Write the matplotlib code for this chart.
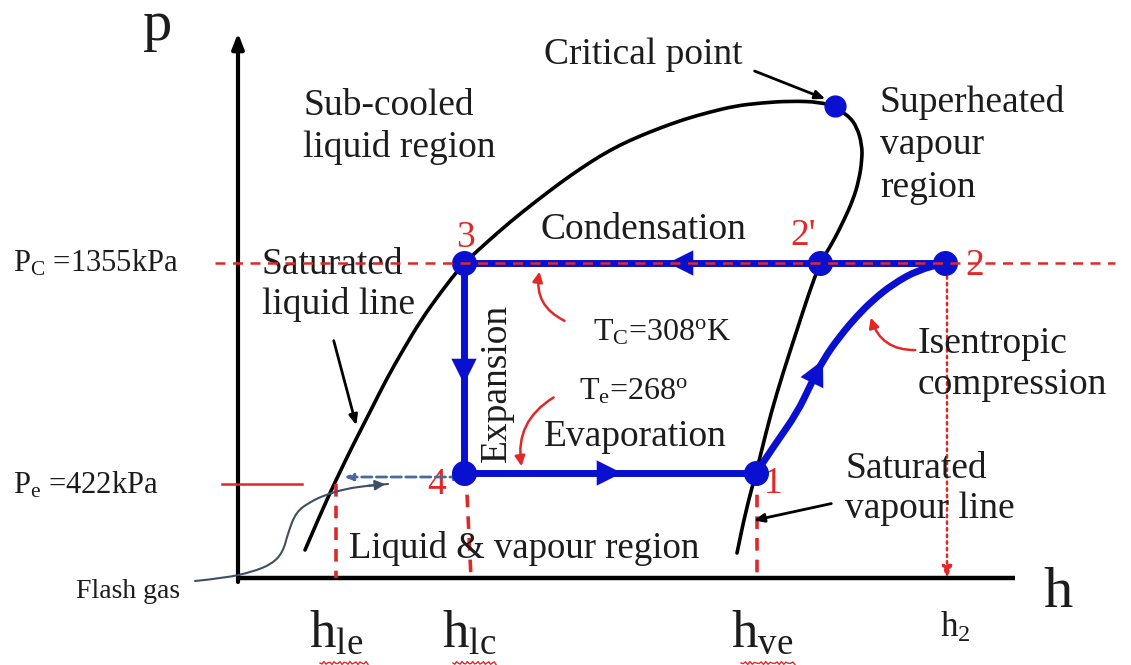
import matplotlib
matplotlib.use("Agg")
import matplotlib.pyplot as plt
from matplotlib.path import Path
from matplotlib.patches import PathPatch
import numpy as np

plt.rcParams['font.family'] = ['Liberation Serif', 'DejaVu Serif']
plt.rcParams['mathtext.fontset'] = 'custom'
plt.rcParams['mathtext.rm'] = 'Liberation Serif'
plt.rcParams['mathtext.it'] = 'Liberation Serif:italic'

# schematic coordinates: h to the right, p drawn with y growing downward (ylim inverted)
# saturation dome, liquid branch (bottom -> critical point)
liq_h = [305, 320, 336, 353, 371, 386, 403, 421, 441, 462, 486, 510, 535, 560, 580, 600, 620, 640, 660, 685, 710, 735, 760, 790, 820, 835]
liq_p = [550, 515, 480, 445, 410, 380, 350, 320, 292, 265, 243, 222, 202, 183, 169, 156, 145, 136, 128, 119, 112, 106, 103, 101, 102, 107]
# vapour branch (critical point -> bottom)
vap_h = [835, 848, 857, 862, 862, 859, 853, 844, 833, 820, 809, 796, 783, 771, 761, 756, 746, 737]
vap_p = [107, 115, 127, 145, 160, 180, 200, 220, 242, 263, 293, 333, 373, 413, 453, 473, 510, 553]

# cycle state points
state_names = ['1', '2', "2'", '3', '4']
state_h = [756, 945, 820, 464, 464]
state_p = [473, 263, 263, 263, 473]
crit_h, crit_p = 835, 106

# isentropic compression 1 -> 2
comp_h = [756, 776, 797, 810, 823, 840, 857, 873, 893, 918, 945]
comp_p = [473, 443, 413, 386, 360, 336, 316, 300, 284, 270, 263]

# flash gas pointer
flash_h = [195, 225, 252, 272, 283, 288, 296, 310, 325, 345, 365, 388]
flash_p = [581, 578, 572, 564, 552, 533, 512, 502, 495, 489, 486, 484]

# reference levels
pc_level, pe_level = 263, 484
h_le, h_lc, h_ve, h_2 = 336, 466, 757, 947
axis_h0, axis_p0 = 238, 578

BLUE = '#0a10d0'
RED = '#e02828'
TXT = '#1c1c1c'
FS = 27


def smooth_curve(ax, xs, ys, **kw):
    # quadratic bezier through midpoints, read points act as control points
    pts = list(zip(xs, ys))
    verts = [pts[0]]
    codes = [Path.MOVETO]
    for i in range(1, len(pts) - 1):
        mid = ((pts[i][0] + pts[i + 1][0]) / 2, (pts[i][1] + pts[i + 1][1]) / 2)
        verts += [pts[i], mid]
        codes += [Path.CURVE3, Path.CURVE3]
    verts.append(pts[-1])
    codes.append(Path.LINETO)
    ax.add_patch(PathPatch(Path(verts, codes), fill=False, capstyle='round', **kw))


fig = plt.figure(figsize=(11.31, 6.65), dpi=100)
ax = fig.add_axes([0, 0, 1, 1])
ax.set_xlim(0, 1131)
ax.set_ylim(665, 0)
ax.axis('off')

# axes of the diagram
ax.plot([axis_h0, 1015], [axis_p0, axis_p0], color='black', lw=3.2, solid_capstyle='butt', zorder=3)
ax.annotate('', xy=(axis_h0, 33), xytext=(axis_h0, 582),
            arrowprops=dict(arrowstyle='-|>,head_length=0.9,head_width=0.35', color='black', lw=3,
                            shrinkA=0, shrinkB=0), zorder=3)
ax.text(158, 26, 'p', fontsize=42, color=TXT, ha='center', va='center')
ax.text(1058, 593, 'h', fontsize=42, color=TXT, ha='center', va='center')

# dome
smooth_curve(ax, liq_h, liq_p, color='black', lw=2.6, zorder=2)
smooth_curve(ax, vap_h, vap_p, color='black', lw=2.6, zorder=2)
ax.plot(crit_h, crit_p, 'o', color=BLUE, ms=15, zorder=5)

# cycle lines
ax.plot([state_h[3], state_h[1]], [state_p[3], state_p[1]], color=BLUE, lw=5, zorder=4)
ax.plot([state_h[3], state_h[4]], [state_p[3], state_p[4]], color=BLUE, lw=5, zorder=4)
ax.plot([state_h[4], state_h[0]], [state_p[4], state_p[0]], color=BLUE, lw=5, zorder=4)
smooth_curve(ax, comp_h, comp_p, color=BLUE, lw=5, zorder=4)
ax.plot(state_h, state_p, 'o', color=BLUE, ms=17, zorder=5)

# direction arrows on the cycle
head = dict(arrowstyle='-|>,head_length=1.0,head_width=0.5', color=BLUE, lw=0.1,
            mutation_scale=18, shrinkA=0, shrinkB=0)
ax.annotate('', xy=(668, pc_level), xytext=(700, pc_level), arrowprops=head, zorder=6)
ax.annotate('', xy=(state_h[3], 384), xytext=(state_h[3], 350), arrowprops=head, zorder=6)
ax.annotate('', xy=(622, state_p[4]), xytext=(590, state_p[4]), arrowprops=head, zorder=6)
ax.annotate('', xy=(comp_h[4], comp_p[4]), xytext=(comp_h[2], comp_p[2]), arrowprops=head, zorder=6)

# pressure levels
ax.plot([215, 1115], [pc_level, pc_level], color=RED, lw=1.8, ls=(0, (4, 3)), zorder=7)
ax.plot([222, 302], [pe_level, pe_level], color=RED, lw=1.8, zorder=3)
ax.text(13, pc_level, r'P$_\mathrm{C}$ =1355kPa', fontsize=22, color=TXT, ha='left', va='center')
ax.text(13, pe_level + 1, r'P$_\mathrm{e}$ =422kPa', fontsize=22, color=TXT, ha='left', va='center')

# enthalpy drop lines
ax.plot([h_le, h_le], [pe_level, axis_p0], color=RED, lw=2.6, ls=(0, (3.5, 2.5)), zorder=3)
ax.plot([h_lc, h_lc + 5], [state_p[4], axis_p0], color=RED, lw=2.6, ls=(0, (3.5, 2.5)), zorder=3)
ax.plot([h_ve, h_ve], [state_p[0], axis_p0], color=RED, lw=2.6, ls=(0, (3.5, 2.5)), zorder=3)
ax.annotate('', xy=(h_2, axis_p0), xytext=(h_2, pc_level),
            arrowprops=dict(arrowstyle='-|>,head_length=0.7,head_width=0.3', color=RED, lw=1.8,
                            ls=':', shrinkA=0, shrinkB=0), zorder=3)

# tick-like labels
ax.text(h_le, 634, r'h$_\mathrm{le}$', fontsize=38, color=TXT, ha='center', va='center')
ax.text(h_lc + 3, 634, r'h$_\mathrm{lc}$', fontsize=38, color=TXT, ha='center', va='center')
ax.text(h_ve + 5, 634, r'h$_\mathrm{ve}$', fontsize=38, color=TXT, ha='center', va='center')
ax.text(h_2 + 8, 628, r'h$_\mathrm{2}$', fontsize=25, color=TXT, ha='center', va='center')
for x0, x1 in [(320, 368), (453, 496), (741, 795)]:
    xs = np.linspace(x0, x1, 25)
    ax.plot(xs, 663 + 1.5 * np.sin((xs - x0) * 1.2), color=RED, lw=1)

# state labels
lab_pos = {'1': (773, 484), '2': (975, 266), "2'": (803, 236), '3': (465, 238), '4': (437, 485)}
for name in state_names:
    ax.text(*lab_pos[name], name, fontsize=FS, color=RED, ha='center', va='center')

# region text
ax.text(643, 55, 'Critical point', fontsize=FS, color=TXT, ha='center', va='center')
ax.annotate('', xy=(828, 100), xytext=(752, 70),
            arrowprops=dict(arrowstyle='-|>,head_length=0.6,head_width=0.25', color='black', lw=2))
ax.text(303, 127, 'Sub-cooled\nliquid region', fontsize=FS, color=TXT, ha='left', va='center', linespacing=1.25)
ax.text(880, 145, 'Superheated\nvapour\nregion', fontsize=FS, color=TXT, ha='left', va='center', linespacing=1.3)
ax.text(643, 230, 'Condensation', fontsize=FS, color=TXT, ha='center', va='center')
ax.text(262, 285, 'Saturated\nliquid line', fontsize=FS, color=TXT, ha='left', va='center', linespacing=1.2)
ax.annotate('', xy=(357, 428), xytext=(333, 338),
            arrowprops=dict(arrowstyle='-|>,head_length=0.6,head_width=0.25', color='black', lw=2))
ax.text(497, 383, 'Expansion', fontsize=FS, color=TXT, ha='center', va='center', rotation=90)
ax.text(662, 333, r'T$_\mathrm{C}$=308$^\mathrm{o}$K', fontsize=23, color=TXT, ha='center', va='center')
ax.text(634, 392, r'T$_\mathrm{e}$=268$^\mathrm{o}$', fontsize=23, color=TXT, ha='center', va='center')
ax.text(635, 437, 'Evaporation', fontsize=FS, color=TXT, ha='center', va='center')
ax.text(918, 364, 'Isentropic\ncompression', fontsize=FS, color=TXT, ha='left', va='center', linespacing=1.25)
ax.text(845, 489, 'Saturated\nvapour line', fontsize=FS, color=TXT, ha='left', va='center', linespacing=1.2)
ax.annotate('', xy=(751, 521), xytext=(834, 503),
            arrowprops=dict(arrowstyle='-|>,head_length=0.6,head_width=0.25', color='black', lw=2))
ax.text(349, 548, 'Liquid & vapour region', fontsize=26.5, color=TXT, ha='left', va='center')
ax.text(76, 592, 'Flash gas', fontsize=20, color=TXT, ha='left', va='center')

# red pointer arrows
red_arrow = dict(arrowstyle='-|>,head_length=0.6,head_width=0.3', color=RED, lw=1.8)
ax.annotate('', xy=(540, 269), xytext=(567, 322),
            arrowprops=dict(red_arrow, connectionstyle='arc3,rad=-0.4'), zorder=8)
ax.annotate('', xy=(522, 469), xytext=(556, 396),
            arrowprops=dict(red_arrow, connectionstyle='arc3,rad=0.35'), zorder=8)
ax.annotate('', xy=(870, 315), xytext=(918, 350),
            arrowprops=dict(red_arrow, connectionstyle='arc3,rad=-0.4'), zorder=8)

# flash gas
ax.annotate('', xy=(333, 477), xytext=(464, 477),
            arrowprops=dict(arrowstyle='<|-|>,head_length=0.5,head_width=0.2', color='#4a6a9a', lw=2,
                            ls='--', shrinkA=0, shrinkB=8), zorder=4)
smooth_curve(ax, flash_h, flash_p, color='#3d4f66', lw=1.5, zorder=4)
ax.annotate('', xy=(flash_h[-1], flash_p[-1]), xytext=(flash_h[-2], flash_p[-2]),
            arrowprops=dict(arrowstyle='-|>,head_length=0.6,head_width=0.3', color='#3d4f66', lw=1.5),
            zorder=4)

fig.savefig('out.png', dpi=100)
